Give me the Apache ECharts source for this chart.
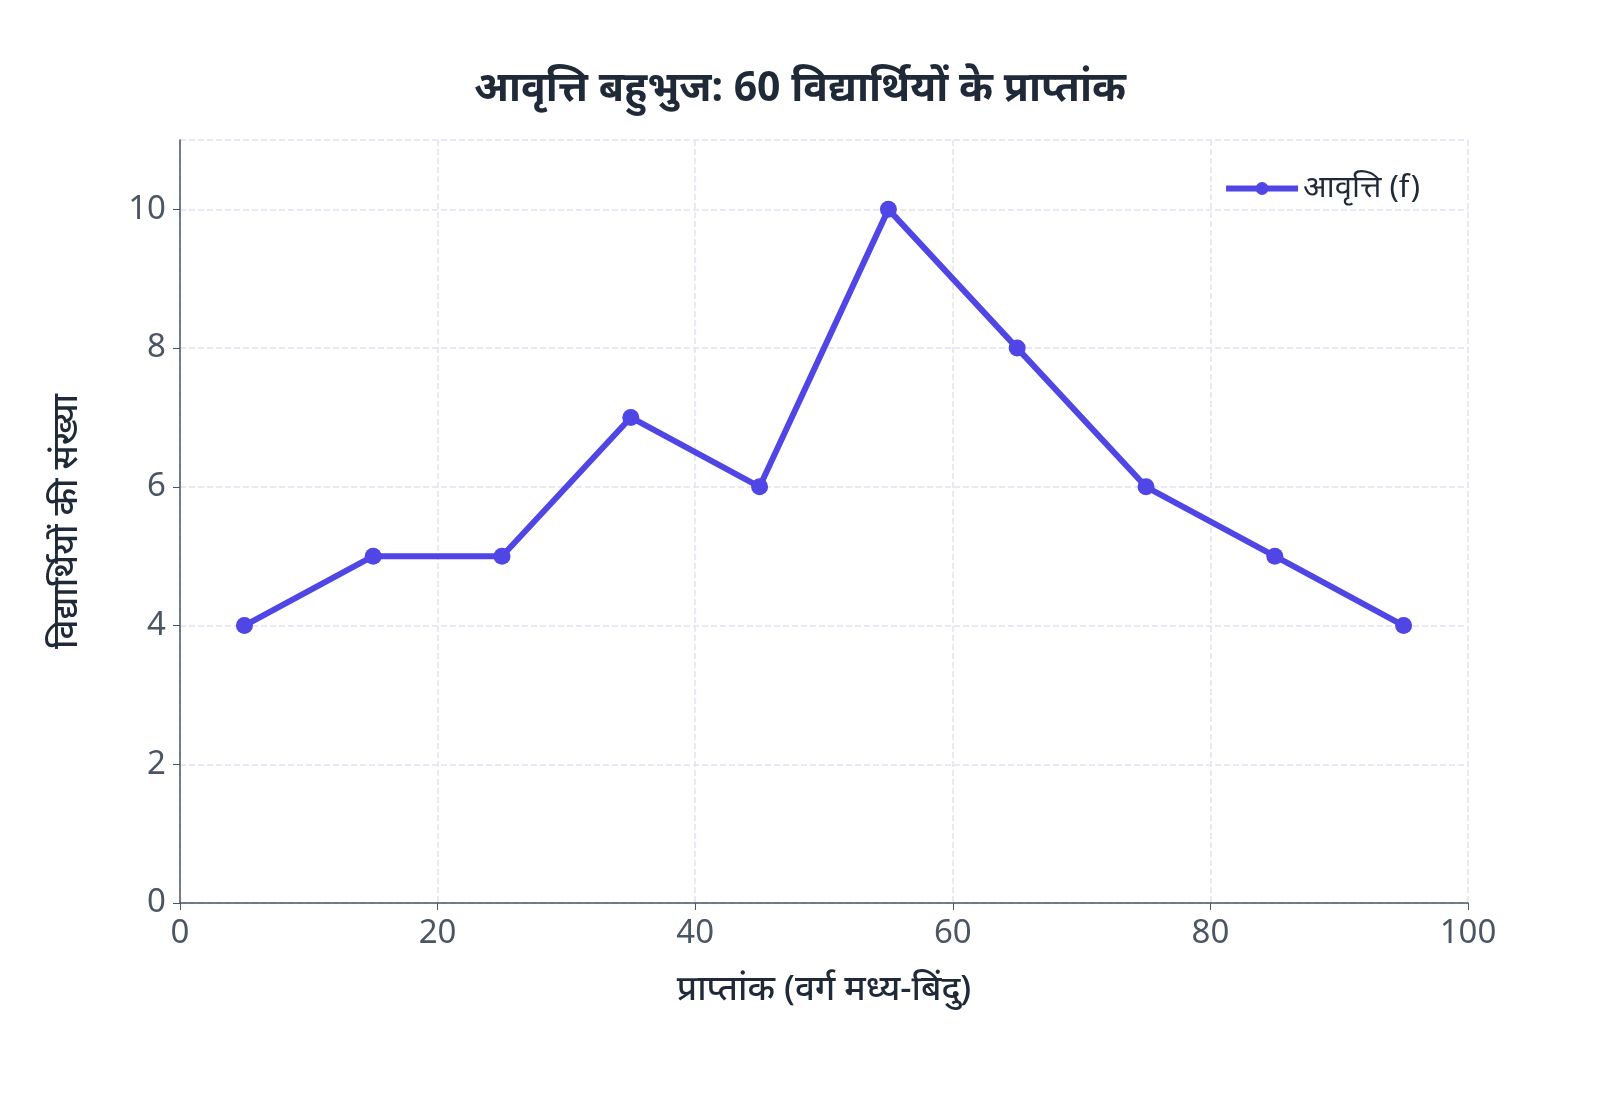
<!DOCTYPE html>
<html><head><meta charset="utf-8">
<script src="https://cdn.jsdelivr.net/npm/echarts@6/dist/echarts.min.js"></script>
<style>html,body{margin:0;background:#fff}#c{width:1600px;height:1096px}</style>
</head><body><div id="c"></div>
<script>
const midpoints = [5,15,25,35,45,55,65,75,85,95];
const frequencies = [4,5,5,7,6,10,8,6,5,4];
const titleText = 'आवृत्ति बहुभुज: 60 विद्यार्थियों के प्राप्तांक';
const seriesName = 'आवृत्ति (f)';
const xName = 'प्राप्तांक (वर्ग मध्य-बिंदु)';
const yName = 'विद्यार्थियों की संख्या';
const font = '"Noto Sans", sans-serif';
const chart = echarts.init(document.getElementById('c'));
chart.setOption({
  backgroundColor:'#fff',
  textStyle:{fontFamily:font},
  title:{text:titleText,left:'center',top:64,textStyle:{fontSize:41,fontWeight:'bold',color:'#1f2937',fontFamily:font}},
  legend:{data:[{name:seriesName}],right:175,top:168,itemWidth:72,itemHeight:16,itemGap:10,
    lineStyle:{width:6},textStyle:{fontSize:31,color:'#1f2937'}},
  grid:{left:180,right:132,top:140,bottom:193},
  xAxis:{type:'value',min:0,max:100,interval:20,name:xName,nameLocation:'middle',nameGap:70,
    nameTextStyle:{fontSize:35,color:'#1f2937',fontWeight:500},
    axisLine:{lineStyle:{color:'#4b5563',width:1.5}},axisTick:{show:true,length:7,lineStyle:{color:'#4b5563'}},
    axisLabel:{fontSize:33,color:'#4b5563',margin:14},
    splitLine:{show:true,lineStyle:{type:'dashed',color:'#e2e2ef',width:1.5}}},
  yAxis:{type:'value',min:0,max:11,interval:2,name:yName,nameLocation:'middle',nameGap:95,
    nameTextStyle:{fontSize:35,color:'#1f2937',fontWeight:500},
    axisLine:{show:true,lineStyle:{color:'#4b5563',width:1.5}},axisTick:{show:true,length:7,lineStyle:{color:'#4b5563'}},
    axisLabel:{fontSize:33,color:'#4b5563',margin:14,showMaxLabel:false,formatter:v=>v>10?'':v},
    splitLine:{show:true,lineStyle:{type:'dashed',color:'#e2e2ef',width:1.5}}},
  series:[{name:seriesName,type:'line',data:midpoints.map((x,i)=>[x,frequencies[i]]),
    symbol:'circle',symbolSize:17,lineStyle:{width:6,color:'#4f46e5'},itemStyle:{color:'#4f46e5'}}]
});
</script></body></html>
